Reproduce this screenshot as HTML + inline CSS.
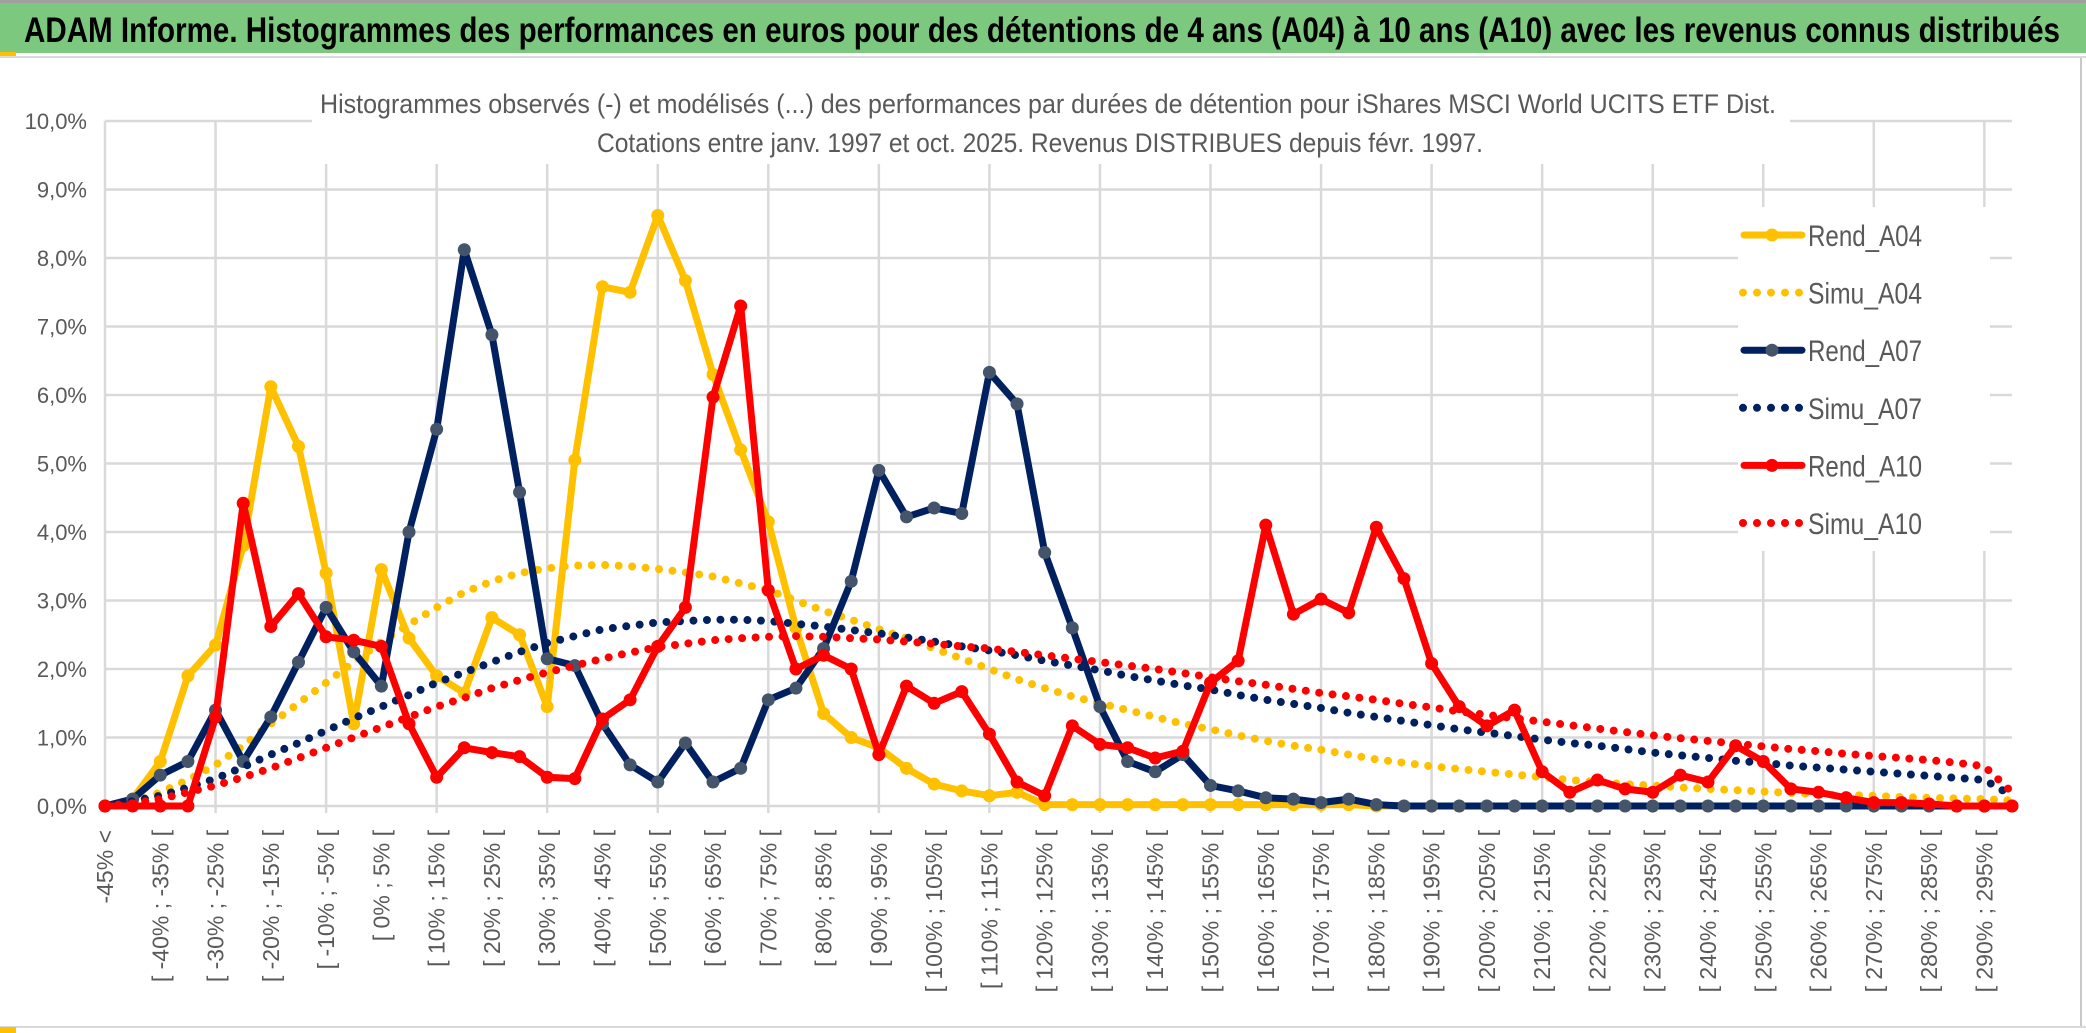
<!DOCTYPE html>
<html><head><meta charset="utf-8"><style>
html,body{margin:0;padding:0;background:#fff;}
svg{display:block;}
</style></head><body>
<svg id="chart" width="2086" height="1033" viewBox="0 0 2086 1033" xmlns="http://www.w3.org/2000/svg">
<rect x="0" y="0" width="2086" height="1033" fill="#fff"/>
<rect x="0" y="0" width="2086" height="3" fill="#a0a0a0"/>
<rect x="0" y="3" width="2086" height="50" fill="#7dc87f"/>
<rect x="0" y="52" width="16" height="4" fill="#ffc000"/>
<rect x="0" y="56" width="2086" height="2" fill="#d9d9d9"/>
<text x="24" y="42" font-family="'Liberation Sans Narrow','Liberation Sans',sans-serif" font-weight="bold" font-size="35" fill="#000" textLength="2036" lengthAdjust="spacingAndGlyphs">ADAM Informe. Histogrammes des performances en euros pour des détentions de 4 ans (A04) à 10 ans (A10) avec les revenus connus distribués</text>
<rect x="2080" y="58" width="2" height="970" fill="#c8c8c8"/>
<rect x="0" y="1026" width="2086" height="2" fill="#d9d9d9"/>
<rect x="0" y="1027" width="16" height="6" fill="#ffc000"/>
<g id="grid"></g>
<rect x="312" y="84" width="1478" height="80" fill="#fff"/>
<text x="1048" y="113" text-anchor="middle" font-family="'Liberation Sans Narrow','Liberation Sans',sans-serif" font-size="27" fill="#595959" textLength="1456" lengthAdjust="spacingAndGlyphs">Histogrammes observés (-) et modélisés (...) des performances par durées de détention pour iShares MSCI World UCITS ETF Dist.</text>
<text x="1040" y="152" text-anchor="middle" font-family="'Liberation Sans Narrow','Liberation Sans',sans-serif" font-size="27" fill="#595959" textLength="886" lengthAdjust="spacingAndGlyphs">Cotations entre janv. 1997 et oct. 2025. Revenus DISTRIBUES depuis févr. 1997.</text>
<g id="ylabels"></g>
<g id="xlabels"></g>
<g id="series"></g>
<rect x="1738" y="207" width="252" height="344" fill="#fff"/>
<g id="legend"></g>
</svg>
<script>
const rendA04 = [0,0.1,0.65,1.9,2.35,3.8,6.12,5.25,3.4,1.2,3.45,2.45,1.9,1.65,2.75,2.5,1.45,5.05,7.58,7.5,8.62,7.67,6.3,5.2,4.15,2.6,1.35,1.0,0.85,0.55,0.32,0.22,0.15,0.2,0.02,0.02,0.02,0.02,0.02,0.02,0.02,0.02,0.02,0.02,0.02,0.02,0,0,0,0,0,0,0,0,0,0,0,0,0,0,0,0,0,0,0,0,0,0,0,0];
const simuA04 = [0,0.05,0.2,0.38,0.6,0.88,1.2,1.5,1.8,2.1,2.4,2.65,2.9,3.12,3.28,3.4,3.47,3.51,3.52,3.5,3.46,3.41,3.35,3.25,3.15,3.0,2.85,2.72,2.58,2.45,2.3,2.15,2.0,1.85,1.72,1.6,1.5,1.4,1.3,1.2,1.12,1.03,0.95,0.88,0.82,0.75,0.68,0.63,0.58,0.54,0.5,0.46,0.42,0.38,0.35,0.32,0.3,0.27,0.25,0.23,0.21,0.19,0.17,0.16,0.15,0.13,0.12,0.11,0.1,0.08];
const rendA07 = [0,0.1,0.45,0.65,1.4,0.65,1.3,2.1,2.9,2.25,1.75,4.0,5.5,8.12,6.88,4.58,2.15,2.05,1.2,0.6,0.35,0.92,0.35,0.55,1.55,1.72,2.3,3.28,4.9,4.22,4.35,4.27,6.33,5.87,3.7,2.6,1.45,0.65,0.5,0.75,0.3,0.22,0.12,0.1,0.05,0.1,0.02,0,0,0,0,0,0,0,0,0,0,0,0,0,0,0,0,0,0,0,0,0,0,0];
const simuA07 = [0,0.07,0.15,0.27,0.4,0.57,0.75,0.92,1.1,1.28,1.45,1.62,1.8,1.95,2.1,2.25,2.38,2.48,2.58,2.63,2.68,2.7,2.72,2.72,2.7,2.66,2.62,2.57,2.52,2.46,2.4,2.33,2.27,2.2,2.12,2.05,1.98,1.9,1.83,1.76,1.7,1.62,1.55,1.49,1.43,1.36,1.3,1.24,1.18,1.12,1.07,1.02,0.97,0.92,0.88,0.83,0.78,0.74,0.7,0.66,0.63,0.59,0.56,0.53,0.5,0.47,0.44,0.41,0.38,0.15];
const rendA10 = [0,0,0,0,1.3,4.42,2.62,3.1,2.47,2.42,2.33,1.2,0.42,0.85,0.78,0.72,0.42,0.4,1.27,1.55,2.33,2.9,5.97,7.3,3.15,2.0,2.2,2.0,0.75,1.75,1.5,1.67,1.05,0.35,0.15,1.17,0.9,0.85,0.7,0.8,1.8,2.12,4.1,2.8,3.02,2.82,4.07,3.32,2.08,1.45,1.17,1.4,0.5,0.2,0.38,0.25,0.2,0.45,0.35,0.88,0.65,0.25,0.2,0.12,0.05,0.05,0.03,0,0,0];
const simuA10 = [0,0.04,0.1,0.2,0.3,0.42,0.55,0.7,0.85,1.0,1.15,1.3,1.45,1.58,1.72,1.84,1.95,2.05,2.15,2.24,2.32,2.37,2.42,2.45,2.47,2.48,2.47,2.45,2.43,2.4,2.37,2.33,2.3,2.25,2.2,2.15,2.1,2.05,2.0,1.94,1.88,1.82,1.77,1.71,1.65,1.6,1.55,1.49,1.44,1.38,1.33,1.28,1.23,1.18,1.13,1.08,1.03,0.99,0.95,0.91,0.87,0.83,0.8,0.76,0.73,0.7,0.67,0.63,0.58,0.2];
const yTicks = [0,1,2,3,4,5,6,7,8,9,10];
const yTickLabels = ["0,0%","1,0%","2,0%","3,0%","4,0%","5,0%","6,0%","7,0%","8,0%","9,0%","10,0%"];
const seriesNames = ["Rend_A04","Simu_A04","Rend_A07","Simu_A07","Rend_A10","Simu_A10"];
const nCat = 70;
const categories = [];
for (let k = 0; k < nCat; k++) {
  if (k === 0) categories.push("-45% <");
  else { const a = -50 + 5 * k; categories.push("[ " + a + "% ; " + (a + 5) + "% ["); }
}

const NS = "http://www.w3.org/2000/svg";
const X0 = 105, X1 = 2012, Y0 = 806, Y10 = 121;
const xScale = k => X0 + k * (X1 - X0) / (nCat - 1);
const yScale = v => Y0 - v * (Y0 - Y10) / 10;
function mk(tag, attrs, parent) {
  const e = document.createElementNS(NS, tag);
  for (const a in attrs) e.setAttribute(a, attrs[a]);
  parent.appendChild(e);
  return e;
}
const grid = document.getElementById("grid");
yTicks.forEach((t, i) => {
  const l = mk("line", {x1: X0, x2: X1, y1: yScale(t), y2: yScale(t), stroke: "#d9d9d9", "stroke-width": 2.5}, grid);
  
  
});
for (let k = 0; k < nCat; k += 4) {
  const l = mk("line", {x1: xScale(k), x2: xScale(k), y1: Y10, y2: Y0 + 7, stroke: "#d9d9d9", "stroke-width": 2.5}, grid);
  
  
}
const yl = document.getElementById("ylabels");
yTicks.forEach((t, i) => {
  const tx = mk("text", {x: 87, y: yScale(t) + 8, "text-anchor": "end", "font-family": "'Liberation Sans Narrow','Liberation Sans',sans-serif", "font-size": 22, fill: "#595959"}, yl);
  tx.textContent = yTickLabels[i];
  
  
});
const xl = document.getElementById("xlabels");
categories.forEach((c, k) => {
  if (k % 2 !== 0) return;
  const x = xScale(k) + 8, y = 830;
  const tx = mk("text", {x: x, y: y, transform: "rotate(-90 " + x + " " + y + ")", "text-anchor": "end", "font-family": "'Liberation Sans',sans-serif", "font-size": 23, fill: "#595959"}, xl);
  tx.textContent = c;
  
  
});
const sg = document.getElementById("series");
function pts(vals) { return vals.map((v, k) => xScale(k).toFixed(1) + "," + yScale(v).toFixed(1)).join(" "); }
function drawRend(vals, color, marker, name) {
  const g = mk("g", {}, sg);
  
  
  const p = mk("polyline", {points: pts(vals), fill: "none", stroke: color, "stroke-width": 7, "stroke-linejoin": "round", "stroke-linecap": "round"}, g);
  
  
  vals.forEach((v, k) => {
    const c = mk("circle", {cx: xScale(k), cy: yScale(v), r: 6.5, fill: marker}, g);
    
    
  });
}
function drawSimu(vals, color, name) {
  const p = mk("polyline", {points: pts(vals), fill: "none", stroke: color, "stroke-width": 8, "stroke-linecap": "round", "stroke-dasharray": "0 13.5"}, sg);
  
  
}
drawRend(rendA04, "#ffc000", "#ffc000", "rend-a04");
drawSimu(simuA04, "#ffc000", "simu-a04");
drawRend(rendA07, "#002060", "#44546a", "rend-a07");
drawSimu(simuA07, "#002060", "simu-a07");
drawRend(rendA10, "#ff0000", "#ff0000", "rend-a10");
drawSimu(simuA10, "#ff0000", "simu-a10");

const lg = document.getElementById("legend");
const legColors = ["#ffc000","#ffc000","#002060","#002060","#ff0000","#ff0000"];
const legMarkers = ["#ffc000",null,"#44546a",null,"#ff0000",null];
seriesNames.forEach((n, i) => {
  const y = 235 + i * 57.6;
  const g = mk("g", {}, lg);
  
  
  if (legMarkers[i]) {
    mk("line", {x1: 1744, x2: 1802, y1: y, y2: y, stroke: legColors[i], "stroke-width": 7, "stroke-linecap": "round"}, g);
    mk("circle", {cx: 1772, cy: y, r: 6.5, fill: legMarkers[i]}, g);
  } else {
    mk("line", {x1: 1743, x2: 1802, y1: y, y2: y, stroke: legColors[i], "stroke-width": 8, "stroke-linecap": "round", "stroke-dasharray": "0 14"}, g);
  }
  const t = mk("text", {x: 1808, y: y + 11, "font-family": "'Liberation Sans Narrow','Liberation Sans',sans-serif", "font-size": 30, fill: "#595959", textLength: 114, lengthAdjust: "spacingAndGlyphs"}, g);
  t.textContent = n;
  
  
});
</script>
</body></html>
